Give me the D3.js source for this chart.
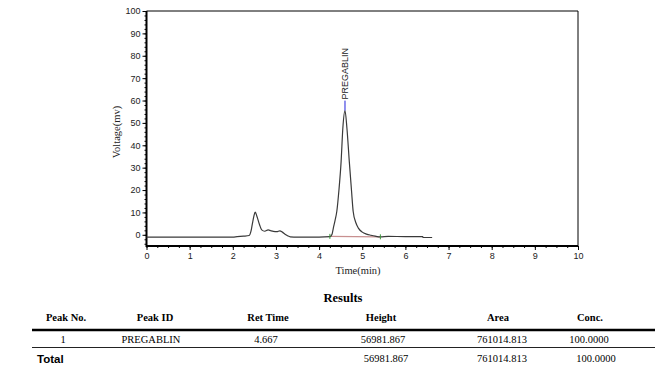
<!DOCTYPE html>
<html lang="en">
	<head>
		<meta charset="utf-8">
		<title>PREGABLIN chromatogram</title>
		<script src="https://d3js.org/d3.v7.min.js"></script>
		<style>
			body { margin: 0; background: #fff; }
			.tick text { font-family: Arial, "Liberation Sans", sans-serif; font-size: 9px; fill: #222; }
		</style>
	</head>
	<body>
		<script type="text/javascript">
			// window size
			var w = 672
			var h = 385

			// trace (time in min, voltage in mv)
			var traceTime = [0, 1.0, 2.0, 2.1, 2.25, 2.38, 2.42, 2.45, 2.49, 2.52, 2.56, 2.62, 2.67, 2.74, 2.82, 2.88, 2.94, 3.02, 3.09, 3.15, 3.21, 3.27, 3.33, 3.5, 4.0, 4.25, 4.3, 4.33, 4.37, 4.41, 4.46, 4.51, 4.55, 4.6, 4.645, 4.7, 4.75, 4.79, 4.85, 4.91, 5.0, 5.1, 5.2, 5.3, 5.42, 5.6, 6.0, 6.4, 6.41, 6.62]
			var traceVolt = [-1, -1, -1, -0.8, -0.6, -0.3, 1.5, 4.5, 8.5, 10.1, 8.2, 4.5, 2.2, 1.6, 2.2, 1.8, 1.5, 1.4, 1.8, 1.2, 0.3, -0.4, -0.9, -1, -1, -0.8, 0.3, 3, 6.5, 10.4, 20, 32.7, 47.6, 55.5, 47.6, 32.7, 20, 10.4, 5.5, 3, 1.2, 0.3, -0.2, -0.6, -0.9, -0.7, -0.8, -0.8, -1.2, -1.2]

			// peak marks
			var peakName = "PREGABLIN"
			var peakTop = [4.6, 55.5]
			var peakStart = [4.25, -0.7]
			var peakEnd = [5.42, -0.9]

			// axis ticks
			var xTicks = [0, 1, 2, 3, 4, 5, 6, 7, 8, 9, 10]
			var yTicks = [0, 10, 20, 30, 40, 50, 60, 70, 80, 90, 100]

			// results table
			var colNames = ["Peak No.", "Peak ID", "Ret Time", "Height", "Area", "Conc."]
			var colX = [66, 155, 268, 381, 498, 590]
			var row1 = ["1", "PREGABLIN", "4.667", "56981.867", "761014.813", "100.0000"]
			var rowTotal = ["Total", "", "", "56981.867", "761014.813", "100.0000"]

			var svg = d3.select("body")
						.append("svg")
						.attr("width", w)
						.attr("height", h)

			// scales
			var xScale = d3.scaleLinear()
							.domain([0, 10])
							.range([146.5, 578])
			var yScale = d3.scaleLinear()
							.domain([-5, 100])
							.range([246, 11])

			// minor ticks first
			var xMinor = d3.axisBottom(xScale)
							.tickValues(d3.range(0, 10.01, 0.25))
							.tickSize(2)
							.tickFormat("")
			var yMinor = d3.axisLeft(yScale)
							.tickValues(d3.range(-4, 100.01, 2))
							.tickSize(2)
							.tickFormat("")

			svg.append("g")
				.attr("transform", "translate(0," + yScale(-5) + ")")
				.call(xMinor)
				.call(g => g.select(".domain").remove())
			svg.append("g")
				.attr("transform", "translate(" + xScale(0) + ",0)")
				.call(yMinor)
				.call(g => g.select(".domain").remove())

			// main axes
			var xAxis = d3.axisBottom(xScale)
							.tickValues(xTicks)
							.tickSize(4)
							.tickPadding(3)
			var yAxis = d3.axisLeft(yScale)
							.tickValues(yTicks)
							.tickSize(4)
							.tickPadding(2)

			svg.append("g")
				.attr("transform", "translate(0," + yScale(-5) + ")")
				.call(xAxis)
				.call(g => g.select(".domain").remove())
			svg.append("g")
				.attr("transform", "translate(" + xScale(0) + ",0)")
				.call(yAxis)
				.call(g => g.select(".domain").remove())

			// frame: thin top/right, thick left/bottom
			svg.append("line")
				.attr("x1", xScale(0)).attr("x2", xScale(10))
				.attr("y1", yScale(100)).attr("y2", yScale(100))
				.attr("stroke", "#000").attr("stroke-width", 1)
			svg.append("line")
				.attr("x1", xScale(10)).attr("x2", xScale(10))
				.attr("y1", yScale(100)).attr("y2", yScale(-5))
				.attr("stroke", "#000").attr("stroke-width", 1)
			svg.append("line")
				.attr("x1", xScale(0)).attr("x2", xScale(0))
				.attr("y1", yScale(100)).attr("y2", yScale(-5) + 1)
				.attr("stroke", "#000").attr("stroke-width", 2)
			svg.append("line")
				.attr("x1", xScale(0)).attr("x2", xScale(10))
				.attr("y1", yScale(-5)).attr("y2", yScale(-5))
				.attr("stroke", "#000").attr("stroke-width", 2)

			// axis titles
			svg.append("text")
				.text("Voltage(mv)")
				.attr("transform", "translate(120," + 132 + ") rotate(-90)")
				.attr("text-anchor", "middle")
				.attr("font-family", "'Liberation Serif', 'Times New Roman', serif")
				.attr("font-size", 10.5)
				.attr("fill", "#222")
			svg.append("text")
				.text("Time(min)")
				.attr("x", 358)
				.attr("y", 274)
				.attr("text-anchor", "middle")
				.attr("font-family", "'Liberation Serif', 'Times New Roman', serif")
				.attr("font-size", 10.5)
				.attr("fill", "#222")

			// integration baseline
			svg.append("line")
				.attr("x1", xScale(peakStart[0])).attr("y1", yScale(peakStart[1]))
				.attr("x2", xScale(peakEnd[0])).attr("y2", yScale(peakEnd[1]))
				.attr("stroke", "#c89090").attr("stroke-width", 1.2)

			// trace
			var line = d3.line()
						.x(function(d, i){ return xScale(traceTime[i]) })
						.y(function(d){ return yScale(d) })
						.curve(d3.curveMonotoneX)
			svg.append("path")
				.datum(traceVolt)
				.attr("d", line)
				.attr("fill", "none")
				.attr("stroke", "#3a3a3a")
				.attr("stroke-width", 1.2)

			// start / end marks
			svg.selectAll(".mark")
				.data([peakStart, peakEnd])
				.enter()
				.append("line")
				.attr("x1", function(d){ return xScale(d[0]) })
				.attr("x2", function(d){ return xScale(d[0]) })
				.attr("y1", function(d){ return yScale(d[1]) - 2.5 })
				.attr("y2", function(d){ return yScale(d[1]) + 2.5 })
				.attr("stroke", "#3c9a3c")
				.attr("stroke-width", 1)

			// peak label
			svg.append("line")
				.attr("x1", xScale(peakTop[0])).attr("x2", xScale(peakTop[0]))
				.attr("y1", yScale(peakTop[1]) - 10).attr("y2", yScale(peakTop[1]))
				.attr("stroke", "#2222dd").attr("stroke-width", 1)
			svg.append("text")
				.text(peakName)
				.attr("transform", "translate(" + (xScale(peakTop[0]) + 3) + "," + (yScale(peakTop[1]) - 11) + ") rotate(-90)")
				.attr("font-family", "Arial, 'Liberation Sans', sans-serif")
				.attr("font-size", 9)
				.attr("fill", "#222")

			// results table
			var serif = "'Liberation Serif', 'Times New Roman', serif"
			svg.append("text")
				.text("Results")
				.attr("x", 343).attr("y", 302)
				.attr("text-anchor", "middle")
				.attr("font-family", serif)
				.attr("font-weight", "bold")
				.attr("font-size", 12.5)

			svg.selectAll(".head")
				.data(colNames)
				.enter()
				.append("text")
				.text(function(d){ return d })
				.attr("x", function(d, i){ return colX[i] })
				.attr("y", 321)
				.attr("text-anchor", "middle")
				.attr("font-family", serif)
				.attr("font-weight", "bold")
				.attr("font-size", 10.5)

			svg.append("line")
				.attr("x1", 32).attr("x2", 655)
				.attr("y1", 330).attr("y2", 330)
				.attr("stroke", "#000").attr("stroke-width", 2.5)

			var row1X = [63, 151, 266, 383, 502, 589]
			svg.selectAll(".row1")
				.data(row1)
				.enter()
				.append("text")
				.text(function(d){ return d })
				.attr("x", function(d, i){ return row1X[i] })
				.attr("y", 343)
				.attr("text-anchor", "middle")
				.attr("font-family", serif)
				.attr("font-size", 10.5)

			svg.append("line")
				.attr("x1", 32).attr("x2", 655)
				.attr("y1", 347.5).attr("y2", 347.5)
				.attr("stroke", "#222").attr("stroke-width", 1)

			var totalX = [0, 0, 0, 386, 502, 596]
			svg.selectAll(".total")
				.data(rowTotal.slice(3))
				.enter()
				.append("text")
				.text(function(d){ return d })
				.attr("x", function(d, i){ return totalX[i + 3] })
				.attr("y", 362)
				.attr("text-anchor", "middle")
				.attr("font-family", serif)
				.attr("font-size", 10.5)

			svg.append("text")
				.text(rowTotal[0])
				.attr("x", 37).attr("y", 363)
				.attr("font-family", "Arial, 'Liberation Sans', sans-serif")
				.attr("font-weight", "bold")
				.attr("font-size", 11.5)
		</script>
	</body>
</html>
